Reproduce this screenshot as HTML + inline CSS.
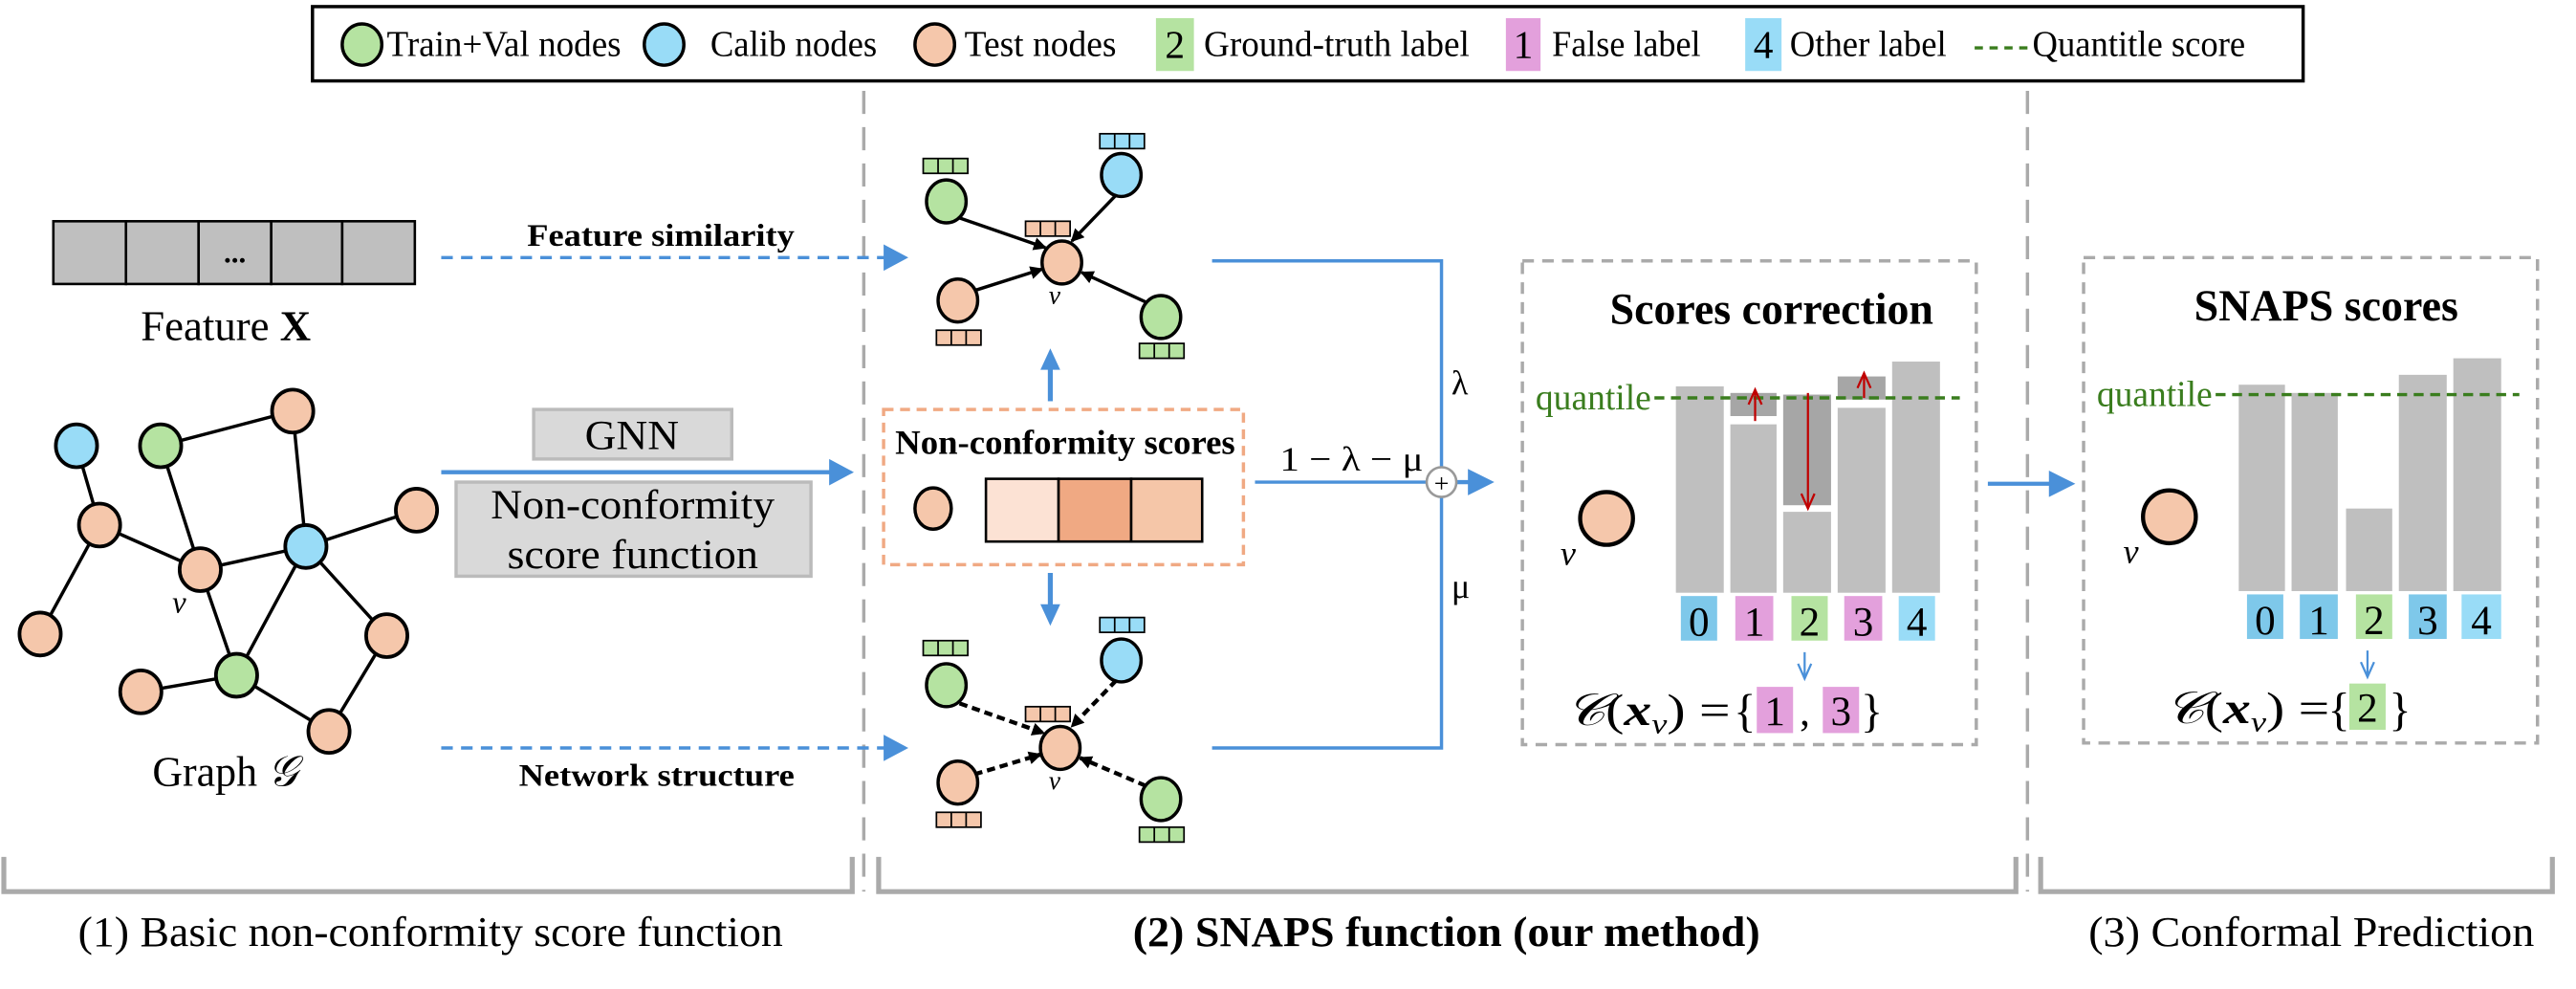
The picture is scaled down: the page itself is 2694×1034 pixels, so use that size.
<!DOCTYPE html>
<html><head><meta charset="utf-8"><style>html,body{margin:0;padding:0;background:#fff}svg{display:block}svg text{font-family:"Liberation Serif",serif}</style></head>
<body>
<svg width="2694" height="1034" viewBox="0 0 1560 599" xmlns="http://www.w3.org/2000/svg" font-family="'Liberation Serif', serif">
<defs>
<marker id="bk" markerWidth="8" markerHeight="8" refX="7" refY="4" orient="auto" markerUnits="userSpaceOnUse"><path d="M0,0 L8,4 L0,8 z" fill="#000"/></marker>
<g id="cb"><rect x="0" y="0" width="27" height="9"/><line x1="9" y1="0" x2="9" y2="9"/><line x1="18" y1="0" x2="18" y2="9"/></g>
</defs>
<!-- legend -->
<rect x="189" y="4" width="1206" height="45" fill="#fff" stroke="#000" stroke-width="2"/>
<g stroke="#000" stroke-width="2">
<ellipse cx="219" cy="27" rx="12" ry="12.5" fill="#b5e3a1"/><ellipse cx="402" cy="27" rx="12" ry="12.5" fill="#99dcf7"/><ellipse cx="566" cy="27" rx="12" ry="12.5" fill="#f5c7ab"/></g>
<g font-size="22" lengthAdjust="spacingAndGlyphs">
<text x="234" y="34" textLength="142" lengthAdjust="spacingAndGlyphs">Train+Val nodes</text>
<text x="430" y="34" textLength="101" lengthAdjust="spacingAndGlyphs">Calib nodes</text>
<text x="584" y="34" textLength="92" lengthAdjust="spacingAndGlyphs">Test nodes</text>
<rect x="700" y="11" width="23" height="32" fill="#b5e3a1"/><text x="711.5" y="35" text-anchor="middle" font-size="24">2</text>
<text x="729" y="34" textLength="161" lengthAdjust="spacingAndGlyphs">Ground-truth label</text>
<rect x="912" y="11" width="21" height="32" fill="#e3a0dc"/><text x="922.5" y="35" text-anchor="middle" font-size="24">1</text>
<text x="940" y="34" textLength="90" lengthAdjust="spacingAndGlyphs">False label</text>
<rect x="1057" y="11" width="22" height="32" fill="#99dcf7"/><text x="1068" y="35" text-anchor="middle" font-size="24">4</text>
<text x="1084" y="34" textLength="95" lengthAdjust="spacingAndGlyphs">Other label</text>
<line x1="1196" y1="29" x2="1228" y2="29" stroke="#3a7d1e" stroke-width="2" stroke-dasharray="5,4"/>
<text x="1231" y="34" textLength="129" lengthAdjust="spacingAndGlyphs">Quantitle score</text></g>
<!-- vertical separators -->
<g stroke="#aaa" stroke-width="2" stroke-dasharray="14,8"><line x1="523" y1="55" x2="523" y2="540"/><line x1="1228" y1="55" x2="1228" y2="540"/></g>
<!-- feature X -->
<g stroke="#000" stroke-width="1.5" fill="#bfbfbf"><rect x="32" y="134" width="44" height="38"/><rect x="76" y="134" width="44" height="38"/><rect x="120" y="134" width="44" height="38"/><rect x="164" y="134" width="43" height="38"/><rect x="207" y="134" width="44" height="38"/></g>
<text x="142" y="159" text-anchor="middle" font-size="18" font-weight="bold">...</text>
<text x="85" y="206" font-size="26" textLength="103" lengthAdjust="spacingAndGlyphs">Feature <tspan font-weight="bold">X</tspan></text>
<!-- graph -->
<g stroke="#000" stroke-width="2">
<line x1="46" y1="270" x2="60" y2="318"/><line x1="97" y1="270" x2="121" y2="345"/><line x1="97" y1="270" x2="177" y2="249"/><line x1="177" y1="249" x2="185" y2="331"/><line x1="60" y1="318" x2="121" y2="345"/><line x1="121" y1="345" x2="185" y2="331"/><line x1="185" y1="331" x2="252" y2="309"/><line x1="60" y1="318" x2="24" y2="384"/><line x1="121" y1="345" x2="143" y2="409"/><line x1="185" y1="331" x2="143" y2="409"/><line x1="185" y1="331" x2="234" y2="385"/><line x1="143" y1="409" x2="85" y2="419"/><line x1="143" y1="409" x2="199" y2="443"/><line x1="234" y1="385" x2="199" y2="443"/>
<g stroke-width="2.2">
<ellipse cx="46" cy="270" rx="12.5" ry="13" fill="#99dcf7"/><ellipse cx="97" cy="270" rx="12.5" ry="13" fill="#b5e3a1"/><ellipse cx="177" cy="249" rx="12.5" ry="13" fill="#f5c7ab"/><ellipse cx="60" cy="318" rx="12.5" ry="13" fill="#f5c7ab"/><ellipse cx="121" cy="345" rx="12.5" ry="13" fill="#f5c7ab"/><ellipse cx="185" cy="331" rx="12.5" ry="13" fill="#99dcf7"/><ellipse cx="252" cy="309" rx="12.5" ry="13" fill="#f5c7ab"/><ellipse cx="24" cy="384" rx="12.5" ry="13" fill="#f5c7ab"/><ellipse cx="234" cy="385" rx="12.5" ry="13" fill="#f5c7ab"/><ellipse cx="143" cy="409" rx="12.5" ry="13" fill="#b5e3a1"/><ellipse cx="85" cy="419" rx="12.5" ry="13" fill="#f5c7ab"/><ellipse cx="199" cy="443" rx="12.5" ry="13" fill="#f5c7ab"/></g></g>
<text x="104" y="371" font-size="19" font-style="italic">v</text>
<text x="92" y="476" font-size="26" textLength="88" lengthAdjust="spacingAndGlyphs">Graph <tspan font-style="italic">𝒢</tspan></text>
<!-- arrows left to middle -->
<text x="319" y="149" font-size="19" font-weight="bold" textLength="162" lengthAdjust="spacingAndGlyphs">Feature similarity</text>
<line x1="267" y1="156" x2="536" y2="156" stroke="#4a90d9" stroke-width="2" stroke-dasharray="7,5"/><path d="M535,148 L550,156 L535,164z" fill="#4a90d9"/>
<rect x="323" y="248" width="120" height="30" fill="#d9d9d9" stroke="#bbb" stroke-width="2"/><text x="354" y="272" font-size="25" textLength="57" lengthAdjust="spacingAndGlyphs">GNN</text>
<line x1="267" y1="286" x2="505" y2="286" stroke="#4a90d9" stroke-width="2.5"/><path d="M502,278 L517,286 L502,294z" fill="#4a90d9"/>
<rect x="276" y="292" width="215" height="57" fill="#d9d9d9" stroke="#bbb" stroke-width="2"/>
<text x="297" y="314" font-size="25" textLength="172" lengthAdjust="spacingAndGlyphs">Non-conformity</text>
<text x="307" y="344" font-size="25" textLength="152" lengthAdjust="spacingAndGlyphs">score function</text>
<text x="314" y="476" font-size="19" font-weight="bold" textLength="167" lengthAdjust="spacingAndGlyphs">Network structure</text>
<line x1="267" y1="453" x2="536" y2="453" stroke="#4a90d9" stroke-width="2" stroke-dasharray="7,5"/><path d="M535,445 L550,453 L535,461z" fill="#4a90d9"/>
<!-- top subgraph -->
<g stroke="#000" stroke-width="2">
<line x1="581" y1="132" x2="633" y2="150" marker-end="url(#bk)"/><line x1="676" y1="118" x2="649" y2="146" marker-end="url(#bk)"/><line x1="590" y1="176" x2="631" y2="163" marker-end="url(#bk)"/><line x1="694" y1="183" x2="655" y2="165" marker-end="url(#bk)"/>
<ellipse cx="643" cy="159" rx="12" ry="13" fill="#f5c7ab"/><ellipse cx="573" cy="122" rx="12" ry="13" fill="#b5e3a1"/><ellipse cx="679" cy="106" rx="12" ry="13" fill="#99dcf7"/><ellipse cx="580" cy="182" rx="12" ry="13" fill="#f5c7ab"/><ellipse cx="703" cy="192" rx="12" ry="13" fill="#b5e3a1"/></g>
<g stroke="#000" stroke-width="1">
<use href="#cb" x="559" y="96" fill="#b5e3a1"/><use href="#cb" x="666" y="81" fill="#99dcf7"/><use href="#cb" x="621" y="134" fill="#f5c7ab"/><use href="#cb" x="567" y="200" fill="#f5c7ab"/><use href="#cb" x="690" y="208" fill="#b5e3a1"/>
</g>
<text x="635" y="184" font-size="16" font-style="italic">v</text>
<!-- blue up/down arrows -->
<line x1="636" y1="243" x2="636" y2="222" stroke="#4a90d9" stroke-width="3"/><path d="M630,224 L636,211 L642,224z" fill="#4a90d9"/>
<line x1="636" y1="347" x2="636" y2="368" stroke="#4a90d9" stroke-width="3"/><path d="M630,366 L636,379 L642,366z" fill="#4a90d9"/>
<!-- nonconformity scores box -->
<rect x="535" y="248" width="218" height="94" fill="none" stroke="#f0a983" stroke-width="2" stroke-dasharray="6,4"/>
<text x="542" y="275" font-size="21" font-weight="bold" textLength="206" lengthAdjust="spacingAndGlyphs">Non-conformity scores</text>
<ellipse cx="565" cy="308" rx="11" ry="12.5" fill="#f5c7ab" stroke="#000" stroke-width="2"/>
<g stroke="#000" stroke-width="1.5"><rect x="597" y="290" width="44" height="38" fill="#fce2d4"/><rect x="641" y="290" width="44" height="38" fill="#f0a983"/><rect x="685" y="290" width="43" height="38" fill="#f5c6a8"/></g>
<!-- bottom subgraph -->
<g stroke="#000" stroke-width="2.5" stroke-dasharray="5,3">
<line x1="581" y1="426" x2="632" y2="444" marker-end="url(#bk)"/><line x1="676" y1="412" x2="649" y2="440" marker-end="url(#bk)"/><line x1="590" y1="469" x2="630" y2="457" marker-end="url(#bk)"/><line x1="694" y1="476" x2="654" y2="459" marker-end="url(#bk)"/></g>
<g stroke="#000" stroke-width="2">
<ellipse cx="642" cy="453" rx="12" ry="13" fill="#f5c7ab"/><ellipse cx="573" cy="415" rx="12" ry="13" fill="#b5e3a1"/><ellipse cx="679" cy="400" rx="12" ry="13" fill="#99dcf7"/><ellipse cx="580" cy="474" rx="12" ry="13" fill="#f5c7ab"/><ellipse cx="703" cy="484" rx="12" ry="13" fill="#b5e3a1"/></g>
<g stroke="#000" stroke-width="1">
<use href="#cb" x="559" y="388" fill="#b5e3a1"/><use href="#cb" x="666" y="374" fill="#99dcf7"/><use href="#cb" x="621" y="428" fill="#f5c7ab"/><use href="#cb" x="567" y="492" fill="#f5c7ab"/><use href="#cb" x="690" y="501" fill="#b5e3a1"/></g>
<text x="635" y="478" font-size="16" font-style="italic">v</text>
<!-- combine lines -->
<g stroke="#4a90d9" stroke-width="2" fill="none"><polyline points="734,158 873,158 873,283"/><polyline points="734,453 873,453 873,301"/><line x1="760" y1="292" x2="864" y2="292"/><line x1="882" y1="292" x2="892" y2="292" stroke-width="2.5"/></g>
<path d="M889,284 L905,292 L889,300z" fill="#4a90d9"/>
<circle cx="873" cy="292" r="9" fill="#fff" stroke="#999" stroke-width="1.5"/><text x="873" y="298" text-anchor="middle" font-size="16">+</text>
<text x="775" y="285" font-size="21" textLength="87" lengthAdjust="spacingAndGlyphs">1 − λ − μ</text>
<text x="879" y="239" font-size="21">λ</text><text x="879" y="362" font-size="21">μ</text>
<!-- Scores correction -->
<rect x="922" y="158" width="275" height="293" fill="none" stroke="#aaa" stroke-width="2" stroke-dasharray="7,5"/>
<text x="975" y="196" font-size="27" font-weight="bold" textLength="196" lengthAdjust="spacingAndGlyphs">Scores correction</text>
<g fill="#bfbfbf"><rect x="1015" y="234" width="29" height="125"/><rect x="1048" y="257" width="28" height="102"/><rect x="1080" y="310" width="29" height="49"/><rect x="1113" y="247" width="29" height="112"/><rect x="1146" y="219" width="29" height="140"/></g>
<g fill="#a6a6a6"><rect x="1048" y="238" width="28" height="14"/><rect x="1080" y="239" width="29" height="67"/><rect x="1113" y="228" width="29" height="14"/></g>
<line x1="1002" y1="241" x2="1187" y2="241" stroke="#3a7d1e" stroke-width="2" stroke-dasharray="6,4"/>
<text x="930" y="248" font-size="22" fill="#3a7d1e" textLength="70" lengthAdjust="spacingAndGlyphs">quantile</text>
<g stroke="#c00000" stroke-width="1.3" fill="none"><line x1="1063" y1="255" x2="1063" y2="237"/><polyline points="1059,245 1063,236 1067,245"/><line x1="1095" y1="238" x2="1095" y2="308"/><polyline points="1091,299 1095,308 1099,299"/><line x1="1129" y1="241" x2="1129" y2="227"/><polyline points="1125,235 1129,226 1133,235"/></g>
<ellipse cx="973" cy="314" rx="16" ry="16" fill="#f5c7ab" stroke="#000" stroke-width="2.5"/><text x="945" y="342" font-size="21" font-style="italic">v</text>
<g font-size="25" text-anchor="middle">
<rect x="1018" y="361" width="22" height="27" fill="#7ec8ea"/><text x="1029" y="385">0</text>
<rect x="1051" y="361" width="23" height="27" fill="#e3a0dc"/><text x="1062.5" y="385">1</text>
<rect x="1085" y="361" width="22" height="27" fill="#b5e3a1"/><text x="1096" y="385">2</text>
<rect x="1117" y="361" width="23" height="27" fill="#e3a0dc"/><text x="1128.5" y="385">3</text>
<rect x="1150" y="361" width="22" height="27" fill="#99dcf7"/><text x="1161" y="385">4</text></g>
<g stroke="#4a90d9" stroke-width="1.3" fill="none"><line x1="1093" y1="395" x2="1093" y2="411"/><polyline points="1089,402 1093,411 1097,402"/></g>
<text x="948" y="439" font-size="27" textLength="100" lengthAdjust="spacingAndGlyphs"><tspan font-style="italic">𝒞</tspan>(<tspan font-style="italic" font-weight="bold">x</tspan><tspan font-style="italic" font-size="17" dy="5">v</tspan><tspan dy="-5">) = </tspan></text>
<text x="1050" y="440" font-size="28">{</text>
<rect x="1064" y="416" width="22" height="28" fill="#e3a0dc"/><text x="1075" y="439" text-anchor="middle" font-size="25">1</text>
<text x="1090" y="439" font-size="25">,</text>
<rect x="1104" y="416" width="22" height="28" fill="#e3a0dc"/><text x="1115" y="439" text-anchor="middle" font-size="25">3</text>
<text x="1127" y="440" font-size="28">}</text>
<!-- middle arrow -->
<line x1="1204" y1="293" x2="1243" y2="293" stroke="#4a90d9" stroke-width="2.5"/><path d="M1241,285 L1257,293 L1241,301z" fill="#4a90d9"/>
<!-- SNAPS scores -->
<rect x="1262" y="156" width="275" height="294" fill="none" stroke="#aaa" stroke-width="2" stroke-dasharray="7,5"/>
<text x="1329" y="194" font-size="27" font-weight="bold" textLength="160" lengthAdjust="spacingAndGlyphs">SNAPS scores</text>
<g fill="#bfbfbf"><rect x="1356" y="233" width="28" height="125"/><rect x="1388" y="238" width="28" height="120"/><rect x="1421" y="308" width="28" height="50"/><rect x="1453" y="227" width="29" height="131"/><rect x="1486" y="217" width="29" height="141"/></g>
<line x1="1342" y1="239" x2="1526" y2="239" stroke="#3a7d1e" stroke-width="2" stroke-dasharray="6,4"/>
<text x="1270" y="246" font-size="22" fill="#3a7d1e" textLength="70" lengthAdjust="spacingAndGlyphs">quantile</text>
<ellipse cx="1314" cy="313" rx="16" ry="16" fill="#f5c7ab" stroke="#000" stroke-width="2.5"/><text x="1286" y="341" font-size="21" font-style="italic">v</text>
<g font-size="25" text-anchor="middle">
<rect x="1361" y="360" width="22" height="27" fill="#7ec8ea"/><text x="1372" y="384">0</text>
<rect x="1393" y="360" width="23" height="27" fill="#7ec8ea"/><text x="1404.5" y="384">1</text>
<rect x="1427" y="360" width="22" height="27" fill="#b5e3a1"/><text x="1438" y="384">2</text>
<rect x="1459" y="360" width="23" height="27" fill="#7ec8ea"/><text x="1470.5" y="384">3</text>
<rect x="1491" y="360" width="24" height="27" fill="#99dcf7"/><text x="1503" y="384">4</text></g>
<g stroke="#4a90d9" stroke-width="1.3" fill="none"><line x1="1434" y1="394" x2="1434" y2="410"/><polyline points="1430,401 1434,410 1438,401"/></g>
<text x="1311" y="438" font-size="27" textLength="100" lengthAdjust="spacingAndGlyphs"><tspan font-style="italic">𝒞</tspan>(<tspan font-style="italic" font-weight="bold">x</tspan><tspan font-style="italic" font-size="17" dy="5">v</tspan><tspan dy="-5">) = </tspan></text>
<text x="1410" y="439" font-size="28">{</text>
<rect x="1423" y="414" width="22" height="28" fill="#b5e3a1"/><text x="1434" y="437" text-anchor="middle" font-size="25">2</text>
<text x="1447" y="439" font-size="28">}</text>
<!-- brackets -->
<g stroke="#aaa" stroke-width="3" fill="none">
<polyline points="2,519 2,540 516,540 516,519"/><polyline points="532,519 532,540 1221,540 1221,519"/><polyline points="1236,519 1236,540 1546,540 1546,519"/></g>
<text x="47" y="573" font-size="26" textLength="427" lengthAdjust="spacingAndGlyphs">(1) Basic non-conformity score function</text>
<text x="686" y="573" font-size="26" font-weight="bold" textLength="380" lengthAdjust="spacingAndGlyphs">(2) SNAPS function (our method)</text>
<text x="1265" y="573" font-size="26" textLength="270" lengthAdjust="spacingAndGlyphs">(3) Conformal Prediction</text>
</svg>
</body></html>
